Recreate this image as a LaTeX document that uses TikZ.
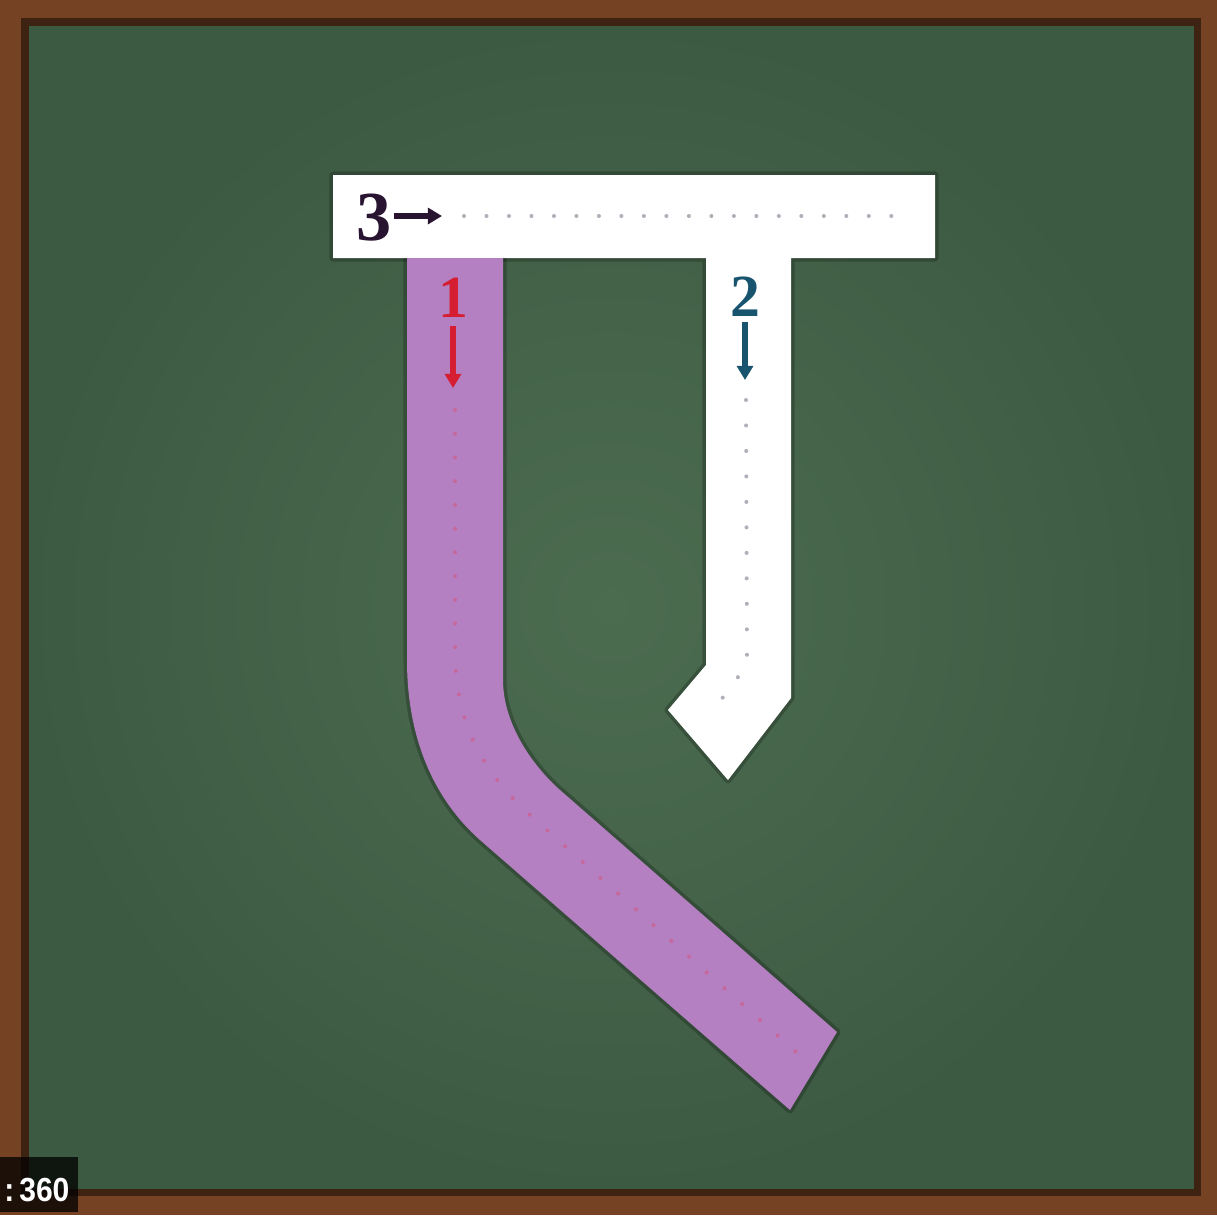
\documentclass[tikz,border=0pt]{standalone}
\usepackage{fontspec}
\setmainfont{Liberation Serif}
\newfontfamily\sansf{Liberation Sans}
\usetikzlibrary{arrows.meta}
\definecolor{frame}{RGB}{118,66,36}
\definecolor{framedark}{RGB}{62,34,18}
\definecolor{boardA}{RGB}{76,108,80}
\definecolor{boardB}{RGB}{60,90,66}
\definecolor{lilac}{RGB}{180,128,194}
\definecolor{lilacdot}{RGB}{198,104,156}
\definecolor{dotgray}{RGB}{176,176,186}
\definecolor{redn}{RGB}{214,30,50}
\definecolor{bluen}{RGB}{24,84,110}
\definecolor{darkn}{RGB}{40,20,48}
\begin{document}
\begin{tikzpicture}[x=0.02cm,y=-0.02cm,
  dots/.style={line width=2.3pt, line cap=round, dash pattern=on 0pt off 12.8pt},
  shadowline/.style={draw=black, draw opacity=0.22, line width=4pt, line join=round},
  numlabel/.style={font=\bfseries\fontsize{34}{34}\selectfont, inner sep=0pt},
  pointer/.style={line width=3.4pt, -{Triangle[length=8pt,width=9pt]}}]
\useasboundingbox (0,0) rectangle (1217,1215);
% frame and board
\fill[frame] (0,0) rectangle (1217,1215);
\fill[boardB] (25,22) rectangle (1197,1192);
\shade[inner color=boardA, outer color=boardB] (25,22) rectangle (1197,1192);
\draw[framedark, line width=4pt] (25,22) rectangle (1197,1192);
% white shape: top bar + stroke 2
\path[shadowline] (333,175) -- (935,175) -- (935,258) -- (791,258) -- (791,698) -- (728,780) -- (668,710) -- (706,665) -- (706,258) -- (333,258) -- cycle;
\fill[white] (333,175) -- (935,175) -- (935,258) -- (791,258) -- (791,698) -- (728,780) -- (668,710) -- (706,665) -- (706,258) -- (333,258) -- cycle;
% purple stroke 1
\path[shadowline] (407,258) -- (407,660) .. controls (407,740) and (435,800) .. (480,840) -- (790,1110) -- (837,1032) -- (560,790) .. controls (534,767) and (503,725) .. (503,680) -- (503,258);
\fill[lilac] (407,258) -- (407,660) .. controls (407,740) and (435,800) .. (480,840) -- (790,1110) -- (837,1032) -- (560,790) .. controls (534,767) and (503,725) .. (503,680) -- (503,258) -- cycle;
% dotted guide lines
\coordinate (d3s) at (464,216);
\coordinate (d3e) at (905,216);
\draw[dots, draw=dotgray] (d3s) -- (d3e);
\coordinate (d1s) at (455,410);
\coordinate (d1b) at (455,650);
\coordinate (d1c) at (530,815);
\coordinate (d1e) at (805,1060);
\draw[dots, draw=lilacdot, dash pattern=on 0pt off 13.5pt] (d1s) -- (d1b) .. controls (455,720) and (480,770) .. (d1c) -- (d1e);
\coordinate (d2s) at (746,400);
\coordinate (d2b) at (747,665);
\coordinate (d2e) at (712,712);
\draw[dots, draw=dotgray, dash pattern=on 0pt off 14.5pt] (d2s) -- (d2b) -- (d2e);
% numbers and arrows
\node[numlabel, text=darkn, font=\bfseries\fontsize{40}{40}\selectfont] (n3) at (374,218) {3};
\coordinate (a3s) at (394,216);
\coordinate (a3e) at (442,216);
\draw[pointer, draw=darkn, fill=darkn] (a3s) -- (a3e);
\node[numlabel, text=redn] (n1) at (453,298) {1};
\coordinate (a1s) at (453,326);
\coordinate (a1e) at (453,388);
\draw[pointer, draw=redn] (a1s) -- (a1e);
\node[numlabel, text=bluen] (n2) at (745,297) {2};
\coordinate (a2s) at (745,322);
\coordinate (a2e) at (745,380);
\draw[pointer, draw=bluen] (a2s) -- (a2e);
% video badge
\fill[black, opacity=0.75] (0,1157) rectangle (78,1212);
\node[text=white, font=\sansf\bfseries\fontsize{19}{19}\selectfont, inner sep=0pt, anchor=west, xscale=0.9] (badge) at (4,1190) {:\,360};
\end{tikzpicture}
\end{document}
